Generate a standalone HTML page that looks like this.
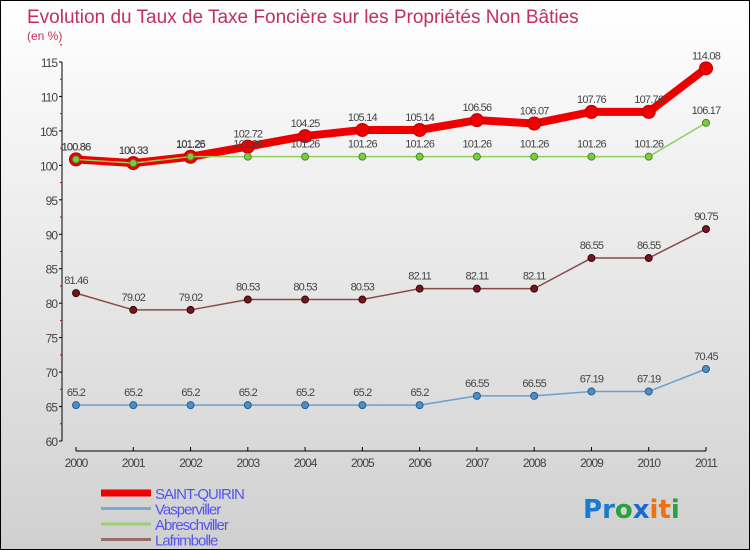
<!DOCTYPE html>
<html><head><meta charset="utf-8"><style>
body{margin:0}
#c{width:750px;height:550px;position:relative;box-sizing:border-box;border:1px solid #000;background:linear-gradient(#fff,#d0d0d0);font-family:"Liberation Sans",sans-serif;overflow:hidden}
</style></head><body>
<div id="c">
<svg id="s" width="748" height="548"></svg>
</div>
<script>
const years=["2000","2001","2002","2003","2004","2005","2006","2007","2008","2009","2010","2011"];
const yTicks=[60,65,70,75,80,85,90,95,100,105,110,115];
const saintQuirin=[100.86,100.33,101.25,102.72,104.25,105.14,105.14,106.56,106.07,107.76,107.76,114.08];
const vasperviller=[65.2,65.2,65.2,65.2,65.2,65.2,65.2,66.55,66.55,67.19,67.19,70.45];
const abreschviller=[100.86,100.33,101.26,101.26,101.26,101.26,101.26,101.26,101.26,101.26,101.26,106.17];
const lafrimbolle=[81.46,79.02,79.02,80.53,80.53,80.53,82.11,82.11,82.11,86.55,86.55,90.75];
const NS="http://www.w3.org/2000/svg",s=document.getElementById('s');
const X=i=>75+i*(705-75)/11, Y=v=>440-(v-60)*(379/55);
function el(t,a,p){const e=document.createElementNS(NS,t);for(const k in a)e.setAttribute(k,a[k]);(p||s).appendChild(e);return e}
function tx(x,y,str,a){const e=el('text',Object.assign({x:x,y:y},a));e.textContent=str;return e}
let t=tx(26,22,"Evolution du Taux de Taxe Foncière sur les Propriétés Non Bâties",{fill:"#c0305a","font-size":19});

t=tx(26,39,"(en %)",{fill:"#c0305a","font-size":12});

// y axis
let ax=el('line',{x1:61,y1:Y(115),x2:61,y2:Y(60),stroke:"#000"});

yTicks.forEach(v=>{el('line',{x1:58,x2:61,y1:Y(v),y2:Y(v),stroke:"#000"});
 el('line',{x1:59,x2:61,y1:Y(v+2.5),y2:Y(v+2.5),stroke:"#d00"});
 const l=tx(56,Y(v)+5,String(v),{fill:"#444","font-size":12,"text-anchor":"end","letter-spacing":"-1"});
 });
ax=el('line',{x1:75,y1:450,x2:705,y2:450,stroke:"#000"});

years.forEach((y,i)=>{el('line',{x1:X(i),x2:X(i),y1:446,y2:450,stroke:"#000"});
 const l=tx(X(i),466,y,{fill:"#444","font-size":12,"text-anchor":"middle","letter-spacing":"-1"});
 });
function series(d,name,col,lw,r,fill,stroke,lab){
 const g=el('g',{});
 el('polyline',{points:d.map((v,i)=>X(i)+','+Y(v)).join(' '),fill:"none",stroke:col,"stroke-width":lw,"stroke-linejoin":"round"},g);
 d.forEach((v,i)=>{const c=el('circle',{cx:X(i),cy:Y(v),r:r,fill:fill,stroke:stroke,"stroke-width":1},g);
  
  if(lab){const l=tx(X(i),Y(v)-9,String(v),{fill:"#444","font-size":11,"text-anchor":"middle","letter-spacing":"-0.8"},g);
  }});
}
series(lafrimbolle,'lafrimbolle-series',"#8a4a4a",1.5,3.5,"#6a1a20","#400",true);
series(vasperviller,'vasperviller-series',"#6aa0d0",1.5,3.5,"#4a90c8","#2a5a90",true);
series(saintQuirin,'saint-quirin-series',"#ee0000",8,6.5,"#e00","#b00",true);
series(abreschviller,'abreschviller-series',"#90d060",1.5,3.5,"#7ccc40","#4a8a20",true);
// legend
const leg=[["SAINT-QUIRIN","#ee0000",7],["Vasperviller","#7aaad0",3],["Abreschviller","#9ad070",3],["Lafrimbolle","#9a6a6a",3]];
leg.forEach((l,i)=>{const g=el('g',{});
 const y=492+i*15.5;el('line',{x1:100,x2:150,y1:y,y2:y,stroke:l[1],"stroke-width":l[2]},g);
 tx(154,y+6,l[0],{fill:"#5555ee","font-size":15,"letter-spacing":"-1"},g);});
const lg=el('text',{x:582,y:517,"font-size":26,"font-family":"DejaVu Sans, sans-serif","font-weight":"bold"});

[["P","#1a7ad0"],["r","#1a7ad0"],["o","#2aa040"],["x","#1a6ad0"],["i","#f07010"],["t","#f07010"],["i","#2aa040"]].forEach(p=>{const sp=el('tspan',{fill:p[1]},lg);sp.textContent=p[0];});
</script>
</body></html>
